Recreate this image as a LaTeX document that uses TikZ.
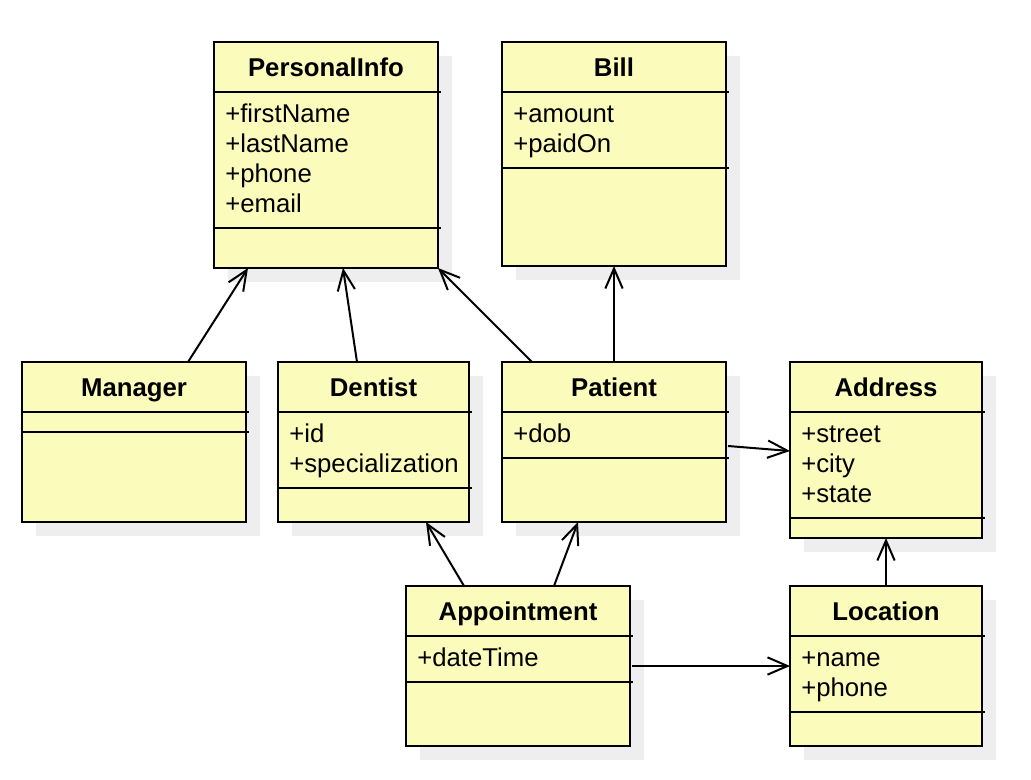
\documentclass[tikz,border=0pt]{standalone}
\usepackage{fontspec}
\setmainfont{Liberation Sans}
\usetikzlibrary{arrows.meta,calc}
\definecolor{boxfill}{RGB}{251,251,187}
\definecolor{shade}{RGB}{238,238,238}
\tikzset{
  classbox/.style={draw=black, line width=1.5pt, fill=boxfill, rectangle, inner sep=0pt, outer sep=0pt, anchor=north west},
  shadowbox/.style={fill=shade},
  divider/.style={line width=1.5pt},
  classtitle/.style={font=\fontsize{19.3}{22.5}\selectfont\bfseries, anchor=base, inner sep=0pt},
  attr/.style={font=\fontsize{19.3}{22.5}\selectfont, anchor=base west, inner sep=0pt},
  assoc/.style={line width=1.5pt, -{Straight Barb[length=15pt,width=13pt]}},
}
\newcommand\umlclass[8]{%
  \fill[shadowbox] (#2+14,#3+14) rectangle (#4+14,#5+14);
  \node[classbox, minimum width={(#4-#2)*0.75pt}, minimum height={(#5-#3)*0.75pt}] (#1) at (#2,#3) {};
  \draw[divider] (#2,#6) -- (#4+3,#6);
  \draw[divider] (#2,#7) -- (#4+3,#7);
  \node[classtitle] (#1-title) at ({(#2+#4)/2},#3+34.5) {#8};
}
\begin{document}
\begin{tikzpicture}[x=0.75pt,y=-0.75pt]
\useasboundingbox (0,0) rectangle (1031,779);
\fill[white] (0,0) rectangle (1031,779);

\umlclass{pi}{214}{42}{438}{268}{92}{228}{PersonalInfo}
\node[attr] (pi-a1) at (225,122) {+firstName};
\node[attr] (pi-a2) at (225,152) {+lastName};
\node[attr] (pi-a3) at (225,182) {+phone};
\node[attr] (pi-a4) at (225,212) {+email};

\umlclass{bill}{502}{42}{726}{266}{92}{168}{Bill}
\node[attr] (bill-a1) at (513,122) {+amount};
\node[attr] (bill-a2) at (513,152) {+paidOn};

\umlclass{mgr}{22}{362}{246}{522}{412}{432}{Manager}

\umlclass{den}{278}{362}{469}{522}{412}{488}{Dentist}
\node[attr] (den-a1) at (289,442) {+id};
\node[attr] (den-a2) at (289,472) {+specialization};

\umlclass{pat}{502}{362}{726}{522}{412}{458}{Patient}
\node[attr] (pat-a1) at (513,442) {+dob};

\umlclass{addr}{790}{362}{982}{538}{412}{518}{Address}
\node[attr] (addr-a1) at (801,442) {+street};
\node[attr] (addr-a2) at (801,472) {+city};
\node[attr] (addr-a3) at (801,502) {+state};

\umlclass{app}{406}{586}{630}{746}{636}{682}{Appointment}
\node[attr] (app-a1) at (417,666) {+dateTime};

\umlclass{loc}{790}{586}{982}{746}{636}{712}{Location}
\node[attr] (loc-a1) at (801,666) {+name};
\node[attr] (loc-a2) at (801,696) {+phone};

\draw[assoc] ($(mgr.north west)+(166,0)$) -- ($(pi.south west)+(34,0)$);
\draw[assoc] ($(den.north west)+(79,0)$) -- ($(pi.south west)+(129,0)$);
\draw[assoc] ($(pat.north west)+(30,0)$) -- (pi.south east);
\draw[assoc] (pat.north) -- (bill.south);
\draw[assoc] ($(pat.north east)+(2,84)$) -- ($(addr.north west)+(0,89)$);
\draw[assoc] ($(app.north west)+(58,0)$) -- ($(den.south west)+(148,0)$);
\draw[assoc] ($(app.north west)+(148,0)$) -- ($(pat.south west)+(76,0)$);
\draw[assoc] ($(app.north east)+(2,80)$) -- ($(loc.north west)+(0,80)$);
\draw[assoc] (loc.north) -- (addr.south);
\end{tikzpicture}
\end{document}
